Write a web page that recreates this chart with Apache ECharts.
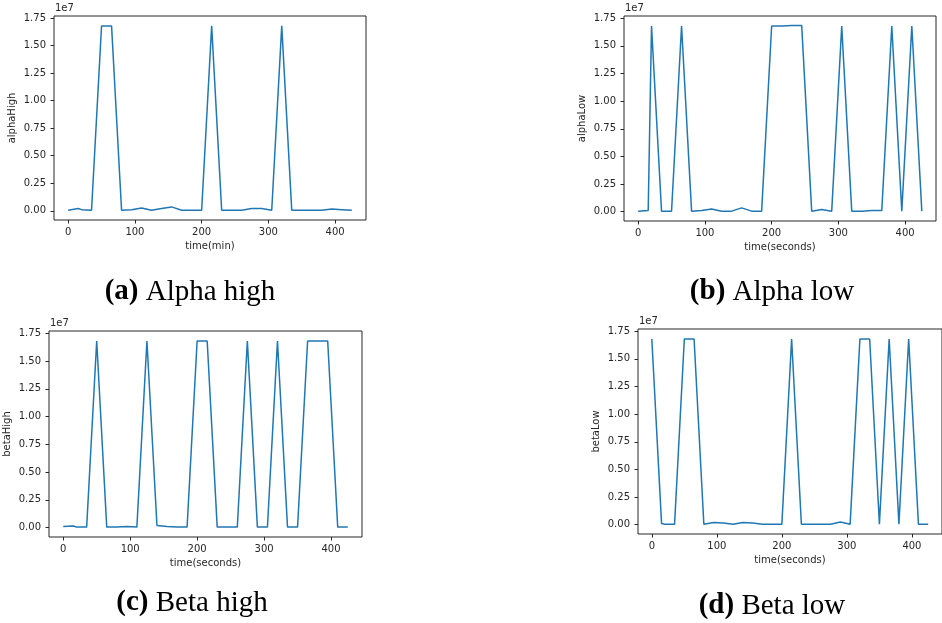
<!DOCTYPE html>
<html>
<head>
<meta charset="utf-8">
<title>EEG band power</title>
<script src="https://cdn.jsdelivr.net/npm/echarts@6/dist/echarts.min.js"></script>
<style>
  html, body { margin: 0; padding: 0; background: #fff; }
  #chart { width: 942px; height: 623px; }
</style>
</head>
<body>
<div id="chart"></div>
<script>
// sample times, shared by all four panels
var times = [0, 15, 20, 35, 50, 65, 80, 95, 110, 125, 140, 155, 170, 185, 200,
  215, 230, 245, 260, 275, 290, 305, 320, 335, 350, 365, 380, 395, 410, 425];

// values in units of 1e7
var alphaHigh = [0.005, 0.02, 0.01, 0.005, 1.68, 1.68, 0.005, 0.01, 0.025, 0.005, 0.02, 0.035, 0.005, 0.005, 0.005,
  1.68, 0.005, 0.005, 0.005, 0.02, 0.02, 0.005, 1.68, 0.005, 0.005, 0.005, 0.005, 0.015, 0.01, 0.005];
var alphaLow = [0.005, 0.01, 1.68, 0.005, 0.005, 1.68, 0.005, 0.01, 0.025, 0.005, 0.005, 0.035, 0.005, 0.005, 1.68,
  1.68, 1.685, 1.685, 0.005, 0.02, 0.005, 1.68, 0.005, 0.005, 0.01, 0.01, 1.68, 0.005, 1.68, 0.005];
var betaHigh = [0.01, 0.015, 0.005, 0.005, 1.68, 0.005, 0.005, 0.01, 0.005, 1.68, 0.02, 0.01, 0.005, 0.005, 1.68,
  1.68, 0.005, 0.005, 0.005, 1.68, 0.005, 0.005, 1.68, 0.005, 0.005, 1.68, 1.68, 1.68, 0.005, 0.005];
var betaLow = [1.68, 0.01, 0.005, 0.005, 1.68, 1.68, 0.005, 0.02, 0.015, 0.005, 0.02, 0.015, 0.005, 0.005, 0.005,
  1.68, 0.005, 0.005, 0.005, 0.005, 0.025, 0.005, 1.68, 1.68, 0.005, 1.68, 0.005, 1.68, 0.005, 0.005];

var yTicks = [0, 0.25, 0.5, 0.75, 1.0, 1.25, 1.5, 1.75];
var xTicks = [0, 100, 200, 300, 400];

var panels = [
  { data: alphaHigh, yName: 'alphaHigh', xName: 'time(min)', tag: '(a)', caption: 'Alpha high',
    grid: { left: 54, top: 16, width: 312, height: 204 }, capX: 190, capY: 292 },
  { data: alphaLow, yName: 'alphaLow', xName: 'time(seconds)', tag: '(b)', caption: 'Alpha low',
    grid: { left: 624, top: 16, width: 312, height: 205 }, capX: 772, capY: 292 },
  { data: betaHigh, yName: 'betaHigh', xName: 'time(seconds)', tag: '(c)', caption: 'Beta high',
    grid: { left: 49, top: 331, width: 313, height: 206 }, capX: 192, capY: 603 },
  { data: betaLow, yName: 'betaLow', xName: 'time(seconds)', tag: '(d)', caption: 'Beta low',
    grid: { left: 638, top: 329, width: 310, height: 205 }, capX: 772, capY: 606 }
];

var font = 'DejaVu Sans';
var ink = '#262626';

var grids = [], xAxes = [], yAxes = [], series = [], graphics = [];

panels.forEach(function (p, i) {
  grids.push(Object.assign({
    show: true, borderColor: ink, borderWidth: 1, backgroundColor: 'transparent'
  }, p.grid));

  xAxes.push({
    type: 'value', gridIndex: i, min: -21.25, max: 446.25,
    name: p.xName, nameLocation: 'middle', nameGap: 21,
    nameTextStyle: { fontFamily: font, fontSize: 10, color: ink },
    splitLine: { show: false },
    axisLine: { show: false, onZero: false },
    axisTick: { show: true, inside: false, length: 3.5, customValues: xTicks, lineStyle: { color: ink } },
    axisLabel: { customValues: xTicks, fontFamily: font, fontSize: 10, color: ink, margin: 7 }
  });

  yAxes.push({
    type: 'value', gridIndex: i, min: -0.084, max: 1.77,
    name: p.yName, nameLocation: 'middle', nameGap: 37, nameRotate: 90,
    nameTextStyle: { fontFamily: font, fontSize: 10, color: ink },
    splitLine: { show: false },
    axisLine: { show: false, onZero: false },
    axisTick: { show: true, inside: false, length: 3.5, customValues: yTicks, lineStyle: { color: ink } },
    axisLabel: {
      customValues: yTicks, fontFamily: font, fontSize: 10, color: ink, margin: 8,
      formatter: function (v) { return v.toFixed(2); }
    }
  });

  series.push({
    type: 'line', xAxisIndex: i, yAxisIndex: i,
    data: times.map(function (t, k) { return [t, p.data[k]]; }),
    showSymbol: false, silent: true,
    lineStyle: { color: '#1f77b4', width: 1.5 }
  });

  // offset label above the y axis, like matplotlib
  graphics.push({
    type: 'text', left: p.grid.left + 1, top: p.grid.top - 13,
    style: { text: '1e7', font: '10px "DejaVu Sans"', fill: ink }
  });

  // panel caption
  graphics.push({
    type: 'text', x: p.capX, y: p.capY,
    style: {
      text: '{b|' + p.tag + '} ' + p.caption,
      align: 'center', verticalAlign: 'middle',
      font: '29px "Liberation Serif"', fill: '#000',
      rich: { b: { font: 'bold 29px "Liberation Serif"', fill: '#000' } }
    }
  });
});

var chart = echarts.init(document.getElementById('chart'), null, { renderer: 'canvas' });
chart.setOption({
  animation: false,
  backgroundColor: '#fff',
  grid: grids,
  xAxis: xAxes,
  yAxis: yAxes,
  series: series,
  graphic: graphics
});
</script>
</body>
</html>
